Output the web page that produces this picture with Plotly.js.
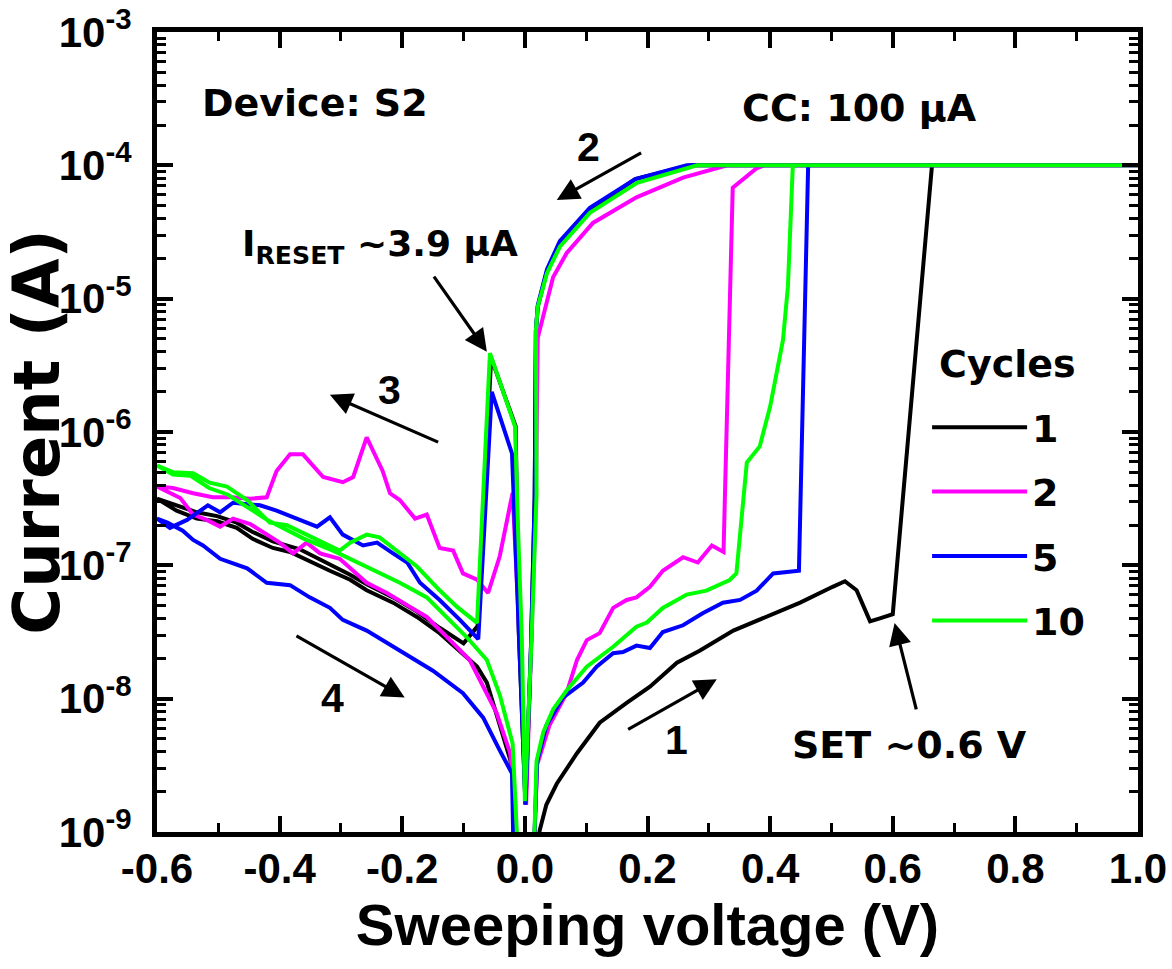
<!DOCTYPE html>
<html>
<head>
<meta charset="utf-8">
<script src="https://cdn.plot.ly/plotly-3.0.1.min.js"></script>
<style>html,body{margin:0;padding:0;background:#fff;}#chart{width:1172px;height:969px;}</style>
</head>
<body>
<div id="chart"></div>
<script>
// ---- Data (voltage in V, current in A), sweep order 1 -> 2 -> 3 -> 4 ----
const cycleNames = ['1', '2', '5', '10'];

// Cycle 1 (black)
const c1_V = [0.018,0.024,0.035,0.052,0.085,0.122,0.166,0.204,0.248,0.285,0.340,0.394,0.449,0.502,0.522,0.541,0.563,0.579,0.600,0.664,1.0,
  0.27,0.18,0.106,0.057,0.036,0.021,0.018,0.016,0.010,0.001,
  -0.010,-0.015,-0.055,-0.077,-0.100,-0.139,-0.176,-0.215,-0.258,-0.285,-0.329,-0.367,-0.411,-0.444,-0.470,-0.502,-0.535,-0.568,-0.6,
  -0.568,-0.535,-0.502,-0.470,-0.444,-0.411,-0.383,-0.351,-0.318,-0.285,-0.258,-0.215,-0.176,-0.139,-0.106,-0.078,-0.062,-0.041,-0.024,-0.020,-0.017];
const c1_I = [3.2e-10,1.02e-9,1.6e-9,2.3e-9,3.9e-9,6.6e-9,9.3e-9,1.23e-8,1.86e-8,2.29e-8,3.24e-8,4.1e-8,5.25e-8,6.9e-8,7.6e-8,6.5e-8,3.8e-8,4.0e-8,4.3e-8,1e-4,1e-4,
  1e-4,7.9e-5,4.6e-5,2.6e-5,1.6e-5,8.7e-6,5.8e-6,3.2e-7,2.5e-8,1.6e-9,
  3.2e-8,1.1e-6,3.6e-6,3.5e-8,2.6e-8,3.4e-8,4.5e-8,5.75e-8,7.2e-8,8.5e-8,1.07e-7,1.32e-7,1.51e-7,1.78e-7,2.09e-7,2.34e-7,2.5e-7,2.82e-7,3.16e-7,
  2.57e-7,2.24e-7,2.14e-7,1.91e-7,1.58e-7,1.35e-7,1.26e-7,1.07e-7,9.1e-8,7.8e-8,6.5e-8,5.25e-8,4.1e-8,3.1e-8,2.29e-8,1.74e-8,1.32e-8,6.3e-9,3.5e-9,2.75e-9,5e-10];

// Cycle 2 (magenta)
const c2_V = [0.012,0.017,0.020,0.040,0.068,0.085,0.101,0.122,0.144,0.166,0.182,0.204,0.225,0.258,0.282,0.305,0.324,0.339,0.378,0.39,1.0,
  0.33,0.258,0.182,0.111,0.068,0.046,0.029,0.021,0.018,0.011,0.002,
  -0.008,-0.020,-0.041,-0.060,-0.078,-0.101,-0.117,-0.139,-0.160,-0.179,-0.204,-0.220,-0.232,-0.258,-0.280,-0.297,-0.329,-0.362,-0.383,-0.405,-0.421,-0.448,-0.478,-0.509,-0.541,-0.574,-0.6,
  -0.562,-0.541,-0.519,-0.497,-0.476,-0.448,-0.421,-0.400,-0.378,-0.356,-0.334,-0.302,-0.258,-0.225,-0.188,-0.160,-0.122,-0.090,-0.046,-0.024,-0.016,-0.012];
const c2_I = [3.2e-10,1.1e-9,3.2e-9,6.3e-9,1.1e-8,1.95e-8,2.75e-8,3.1e-8,4.8e-8,5.5e-8,5.75e-8,6.9e-8,9.1e-8,1.15e-7,1.05e-7,1.41e-7,1.26e-7,6.8e-5,9.5e-5,1e-4,1e-4,
  1e-4,8.1e-5,5.75e-5,3.7e-5,2.19e-5,1.45e-5,7.2e-6,5.1e-6,3.2e-7,2.5e-8,1.6e-9,
  2.5e-8,3.5e-7,1.17e-7,6.2e-8,7.8e-8,8.7e-8,1.29e-7,1.35e-7,2.4e-7,2.24e-7,3.09e-7,3.47e-7,5.1e-7,9.1e-7,4.6e-7,4.2e-7,4.6e-7,6.8e-7,6.8e-7,5.1e-7,3.24e-7,3.16e-7,3.24e-7,3.24e-7,3.47e-7,3.8e-7,3.9e-7,
  3.2e-7,2.4e-7,2.19e-7,1.95e-7,2.24e-7,2.04e-7,1.7e-7,1.48e-7,1.23e-7,1.48e-7,1.23e-7,1.12e-7,7.4e-8,6.2e-8,4.9e-8,4.1e-8,2.75e-8,1.95e-8,7.8e-9,3.9e-9,1.8e-9,3.2e-10];

// Cycle 5 (blue)
const c5_V = [0.012,0.017,0.020,0.035,0.062,0.095,0.117,0.144,0.160,0.182,0.204,0.225,0.258,0.290,0.323,0.351,0.378,0.405,0.447,0.462,1.0,
  0.264,0.18,0.106,0.057,0.036,0.021,0.018,0.016,0.010,0.001,
  -0.010,-0.017,-0.021,-0.054,-0.076,-0.106,-0.139,-0.171,-0.192,-0.215,-0.241,-0.264,-0.297,-0.318,-0.339,-0.367,-0.405,-0.432,-0.476,-0.497,-0.517,-0.551,-0.579,-0.6,
  -0.583,-0.558,-0.541,-0.525,-0.497,-0.453,-0.421,-0.383,-0.351,-0.318,-0.297,-0.258,-0.225,-0.188,-0.150,-0.101,-0.068,-0.041,-0.021,-0.018];
const c5_I = [3.2e-10,1.1e-9,3.4e-9,6.3e-9,1.02e-8,1.32e-8,1.74e-8,2.19e-8,2.24e-8,2.5e-8,2.4e-8,3.16e-8,3.55e-8,4.37e-8,5.25e-8,5.5e-8,6.46e-8,8.7e-8,9.1e-8,1e-4,1e-4,
  1e-4,7.9e-5,4.8e-5,2.7e-5,1.66e-5,8.9e-6,5.75e-6,3.2e-7,2.5e-8,1.6e-9,
  3.2e-8,2.0e-7,6.9e-7,2.0e-6,2.8e-8,3.9e-8,5.5e-8,7.4e-8,1.05e-7,1.23e-7,1.48e-7,1.41e-7,1.7e-7,2.29e-7,1.95e-7,2.19e-7,2.57e-7,2.82e-7,2.95e-7,2.5e-7,2.82e-7,2.19e-7,1.91e-7,2.24e-7,
  2.09e-7,1.82e-7,1.55e-7,1.41e-7,1.12e-7,9.5e-8,7.4e-8,7.1e-8,5.75e-8,4.8e-8,3.9e-8,3.24e-8,2.63e-8,2.04e-8,1.62e-8,1.1e-8,7.2e-9,4.1e-9,2.75e-9,5e-10];

// Cycle 10 (green)
const c10_V = [0.010,0.016,0.019,0.030,0.046,0.068,0.101,0.144,0.182,0.199,0.225,0.264,0.296,0.334,0.345,0.362,0.383,0.400,0.421,0.429,0.437,1.0,
  0.281,0.183,0.106,0.057,0.036,0.021,0.018,0.019,0.011,0.000,
  -0.005,-0.011,-0.016,-0.057,-0.078,-0.111,-0.139,-0.176,-0.204,-0.237,-0.258,-0.285,-0.302,-0.329,-0.362,-0.388,-0.416,-0.453,-0.486,-0.514,-0.541,-0.574,-0.6,
  -0.574,-0.545,-0.515,-0.485,-0.455,-0.42,-0.39,-0.36,-0.313,-0.258,-0.204,-0.160,-0.134,-0.095,-0.062,-0.041,-0.020,-0.013,-0.008];
const c10_I = [3.2e-10,1.1e-9,3.4e-9,5.6e-9,8.3e-9,1.15e-8,1.74e-8,2.45e-8,3.47e-8,3.72e-8,4.79e-8,6.03e-8,6.46e-8,7.76e-8,8.7e-8,5.9e-7,7.8e-7,1.55e-6,4.9e-6,1.23e-5,1e-4,1e-4,
  1e-4,7.4e-5,4.4e-5,2.45e-5,1.55e-5,8.7e-6,5.8e-6,3.4e-7,2.9e-8,1.7e-9,
  2.9e-8,1.8e-7,1.1e-6,3.9e-6,3.7e-8,4.9e-8,6.5e-8,9.8e-8,1.23e-7,1.62e-7,1.7e-7,1.48e-7,1.29e-7,1.48e-7,1.74e-7,2.0e-7,2.09e-7,3.09e-7,3.89e-7,4.17e-7,4.9e-7,5.0e-7,5.6e-7,
  4.8e-7,4.7e-7,3.8e-7,3.4e-7,2.8e-7,2.19e-7,1.86e-7,1.58e-7,1.29e-7,9.8e-8,7.4e-8,5.75e-8,4.4e-8,2.9e-8,1.95e-8,1.07e-8,4.6e-9,1.1e-9,3.2e-10];

const xTickVals = [-0.6,-0.4,-0.2,0.0,0.2,0.4,0.6,0.8,1.0];
const xTickText = ['-0.6','-0.4','-0.2','0.0','0.2','0.4','0.6','0.8','1.0'];
const yTickVals = [1e-9,1e-8,1e-7,1e-6,1e-5,1e-4,1e-3];
const yTickText = ['10<sup>-9</sup>','10<sup>-8</sup>','10<sup>-7</sup>','10<sup>-6</sup>','10<sup>-5</sup>','10<sup>-4</sup>','10<sup>-3</sup>'];

// minor tick positions (axis decoration, derived from the major ticks)
const xMinor = [];
for (let k = 0; k < xTickVals.length - 1; k++) xMinor.push((xTickVals[k] + xTickVals[k + 1]) / 2);
const yMinor = [];
for (let k = 0; k < yTickVals.length - 1; k++) for (let d = 2; d <= 9; d++) yMinor.push(d * yTickVals[k]);

// ---- Styling ----
const FONT = 'Liberation Sans, Arial, Helvetica, sans-serif';
const WFONT = 'DejaVu Sans, Verdana, sans-serif';
const colors = ['#000000', '#ff00ff', '#0000ff', '#00ff00'];
const seriesV = [c1_V, c2_V, c5_V, c10_V];
const seriesI = [c1_I, c2_I, c5_I, c10_I];

const traces = seriesV.map((v, i) => ({
  x: v, y: seriesI[i], type: 'scatter', mode: 'lines', name: cycleNames[i],
  legendgroup: 'g' + i,
  line: {color: colors[i], width: 4}
}));

const L = Math.log10;
function arrow(hx, hy, tx, ty) {
  return {x: hx, y: L(hy), ax: tx, ay: L(ty), xref: 'x', yref: 'y', axref: 'x', ayref: 'y',
    text: '', showarrow: true, arrowhead: 2, arrowsize: 1.4, arrowwidth: 3.2, arrowcolor: '#000'};
}
function label(txt, x, y, size, anchor, fam) {
  return {x: x, y: L(y), xref: 'x', yref: 'y', text: txt, showarrow: false,
    xanchor: anchor || 'center', yanchor: 'middle',
    font: {family: fam || WFONT, size: size, color: '#000', weight: 'bold'}};
}

const annotations = [
  arrow(0.052, 5.5e-5, 0.192, 1.26e-4),
  arrow(-0.318, 1.9e-6, -0.139, 8.3e-7),
  arrow(-0.196, 1.02e-8, -0.375, 3.0e-8),
  arrow(0.313, 1.4e-8, 0.166, 5.8e-9),
  arrow(0.603, 3.7e-8, 0.639, 8.1e-9),
  arrow(-0.062, 4.0e-6, -0.150, 1.5e-5),
  label('Device: S2', -0.53, 2.95e-4, 38, 'left'),
  label('CC: 100 μA', 0.351, 2.7e-4, 38, 'left'),
  label('2', 0.103, 1.38e-4, 41, 'center', FONT),
  label('I<sub>RESET</sub> ~3.9 μA', -0.465, 2.45e-5, 36, 'left'),
  label('3', -0.220, 2.05e-6, 41, 'center', FONT),
  label('4', -0.313, 1.02e-8, 41, 'center', FONT),
  label('1', 0.248, 4.9e-9, 41, 'center', FONT),
  label('SET ~0.6 V', 0.628, 4.5e-9, 38),
  {x: 0.867, y: 1 - (364 - 32) / 800, xref: 'paper', yref: 'paper', text: 'Cycles', showarrow: false,
    xanchor: 'center', yanchor: 'middle', font: {family: WFONT, size: 38, color: '#000', weight: 'bold'}}
];

const layout = {
  width: 1172, height: 969,
  margin: {l: 157, r: 34, t: 32, b: 137},
  paper_bgcolor: '#fff', plot_bgcolor: '#fff',
  font: {family: FONT, color: '#000', weight: 'bold'},
  showlegend: true,
  legend: {
    x: 0.785, y: 0.545, xanchor: 'left', yanchor: 'top',
    bgcolor: 'rgba(0,0,0,0)', borderwidth: 0,
    font: {family: WFONT, size: 38, color: '#000', weight: 'bold'},
    itemwidth: 95, tracegroupgap: 12
  },
  xaxis: {
    range: [-0.6, 1.0], tickmode: 'array', tickvals: xTickVals, ticktext: xTickText,
    ticks: 'inside', ticklen: 16, tickwidth: 4, tickcolor: '#000',
    minor: {tickmode: 'array', tickvals: xMinor, ticks: 'inside', ticklen: 9, tickwidth: 3, tickcolor: '#000'},
    showline: true, linewidth: 5, linecolor: '#000', mirror: 'ticks',
    showgrid: false, zeroline: false,
    tickfont: {family: FONT, size: 42, color: '#000', weight: 'bold'},
    ticklabelstandoff: -4,
    title: {text: 'Sweeping voltage (V)', standoff: 4, font: {family: FONT, size: 58, color: '#000', weight: 'bold'}}
  },
  yaxis: {
    type: 'log', range: [-9, -3], tickmode: 'array', tickvals: yTickVals, ticktext: yTickText,
    ticks: 'inside', ticklen: 16, tickwidth: 4, tickcolor: '#000',
    minor: {tickmode: 'array', tickvals: yMinor, ticks: 'inside', ticklen: 9, tickwidth: 3, tickcolor: '#000'},
    showline: true, linewidth: 5, linecolor: '#000', mirror: 'ticks',
    showgrid: false, zeroline: false,
    tickfont: {family: FONT, size: 42, color: '#000', weight: 'bold'},
    ticklabelstandoff: 12,
    title: {text: 'Current (A)', standoff: 0, font: {family: WFONT, size: 64, color: '#000', weight: 'bold'}}
  },
  annotations: annotations
};

Plotly.newPlot('chart', traces, layout, {displayModeBar: false, staticPlot: true});
</script>
</body>
</html>
